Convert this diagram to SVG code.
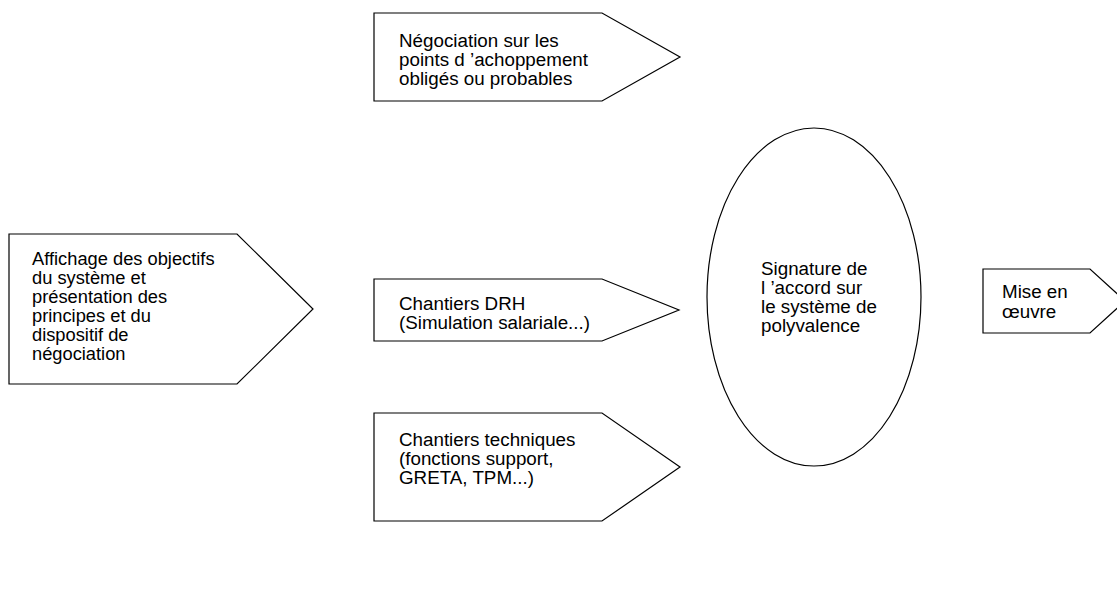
<svg xmlns="http://www.w3.org/2000/svg" width="1117" height="614" viewBox="0 0 1117 614">
<style>
.shape{fill:#fff;stroke:#000;stroke-width:1.2}
.t{font-family:"Liberation Sans",Arial,sans-serif;font-size:18.8px;fill:#000}
.tl{font-size:18.3px}
</style>
<rect width="1117" height="614" fill="#fff"/>
<g id="connectors"></g>
<g id="n-affichage">
<polygon class="shape" points="9,234 237,234 313,309 237,384 9,384"/>
<text class="t tl" y="265"><tspan x="32">Affichage des objectifs</tspan><tspan x="32" dy="19">du système et</tspan><tspan x="32" dy="19">présentation des</tspan><tspan x="32" dy="19">principes et du</tspan><tspan x="32" dy="19">dispositif de</tspan><tspan x="32" dy="19">négociation</tspan></text>
</g>
<g id="n-negociation">
<polygon class="shape" points="374,13 602,13 680,57 602,101 374,101"/>
<text class="t" y="47"><tspan x="399">Négociation sur les</tspan><tspan x="399" dy="19">points d ’achoppement</tspan><tspan x="399" dy="19">obligés ou probables</tspan></text>
</g>
<g id="n-drh">
<polygon class="shape" points="374,279 602,279 679,310 602,341 374,341"/>
<text class="t" y="310"><tspan x="399">Chantiers DRH</tspan><tspan x="399" dy="19">(Simulation salariale...)</tspan></text>
</g>
<g id="n-techniques">
<polygon class="shape" points="374,413 602,413 680,467 602,521 374,521"/>
<text class="t" y="446"><tspan x="399">Chantiers techniques</tspan><tspan x="399" dy="19">(fonctions support,</tspan><tspan x="399" dy="19">GRETA, TPM...)</tspan></text>
</g>
<g id="n-signature">
<ellipse class="shape" cx="814" cy="297" rx="107" ry="169"/>
<text class="t" y="275"><tspan x="761">Signature de</tspan><tspan x="761" dy="19">l ’accord sur</tspan><tspan x="761" dy="19">le système de</tspan><tspan x="761" dy="19">polyvalence</tspan></text>
</g>
<g id="n-mise">
<polygon class="shape" points="983,269 1090,269 1125,301 1090,333 983,333"/>
<text class="t" y="298"><tspan x="1002">Mise en</tspan><tspan x="1002" dy="20">œuvre</tspan></text>
</g>
</svg>
